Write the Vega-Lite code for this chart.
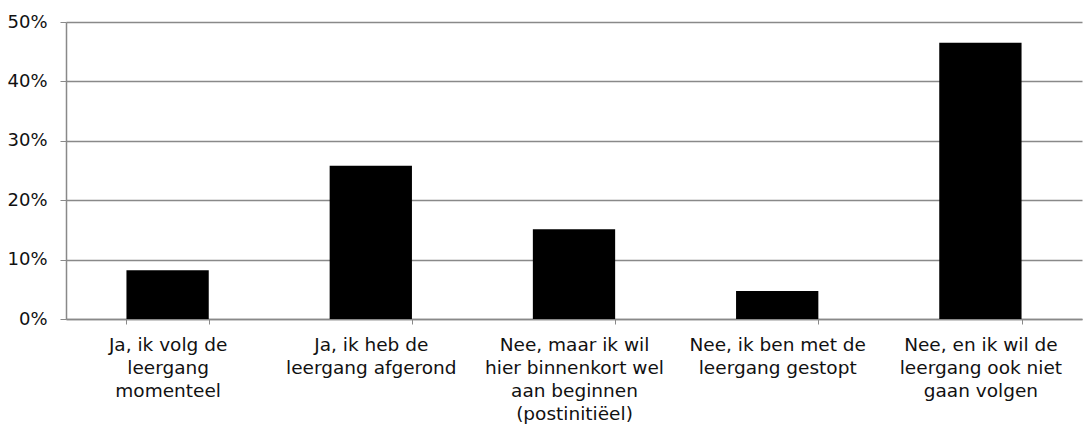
{
  "$schema": "https://vega.github.io/schema/vega-lite/v6.json",
  "autosize": {"type": "none"},
  "width": 1016,
  "height": 297,
  "padding": {"left": 66, "top": 22, "right": 1, "bottom": 109},
  "background": "white",
  "config": {
    "view": {"stroke": null},
    "font": "DejaVu Sans"
  },
  "data": {
    "values": [
      {"antwoord": "Ja, ik volg de|leergang|momenteel", "aandeel": 0.082},
      {"antwoord": "Ja, ik heb de|leergang afgerond", "aandeel": 0.258},
      {"antwoord": "Nee, maar ik wil|hier binnenkort wel|aan beginnen|(postinitiëel)", "aandeel": 0.151},
      {"antwoord": "Nee, ik ben met de|leergang gestopt", "aandeel": 0.047},
      {"antwoord": "Nee, en ik wil de|leergang ook niet|gaan volgen", "aandeel": 0.465}
    ]
  },
  "mark": {"type": "bar", "color": "#000000"},
  "encoding": {
    "x": {
      "field": "antwoord",
      "type": "nominal",
      "sort": null,
      "scale": {"paddingInner": 0.595, "paddingOuter": 0.2975},
      "axis": {
        "title": null,
        "labelAngle": 0,
        "labelExpr": "split(datum.label, '|')",
        "labelFontSize": 18.5,
        "labelColor": "#111111",
        "labelLineHeight": 23.3,
        "labelPadding": 11,
        "labelBaseline": "top",
        "labelOverlap": false,
        "tickBand": "extent",
        "tickSize": 5,
        "tickColor": "#898989",
        "domainColor": "#898989",
        "domainWidth": 1.5,
        "labelLimit": 0,
        "grid": false
      }
    },
    "y": {
      "field": "aandeel",
      "type": "quantitative",
      "scale": {"domain": [0, 0.5], "nice": false},
      "axis": {
        "title": null,
        "format": ".0%",
        "values": [0, 0.1, 0.2, 0.3, 0.4, 0.5],
        "labelOverlap": false,
        "labelFontSize": 18,
        "labelColor": "#111111",
        "labelPadding": 13,
        "tickSize": 6,
        "tickColor": "#898989",
        "domainColor": "#898989",
        "domainWidth": 1.5,
        "grid": true,
        "gridColor": "#898989",
        "gridWidth": 1.5
      }
    }
  }
}
